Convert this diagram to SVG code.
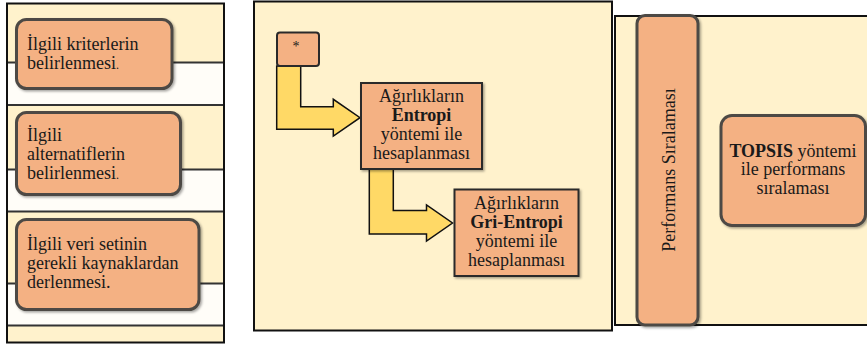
<svg xmlns="http://www.w3.org/2000/svg" width="867" height="344" viewBox="0 0 867 344" font-family="'Liberation Serif', 'Times New Roman', serif">
<defs>
  <filter id="sh" x="-10%" y="-10%" width="130%" height="130%">
    <feDropShadow dx="1.5" dy="1.5" stdDeviation="1" flood-color="#000" flood-opacity="0.35"/>
  </filter>
</defs>
<style>
  text { font-family: 'Liberation Serif', 'Times New Roman', serif; font-size: 18px; fill: #1a1a1a; }
  .panel { fill: #FFF2CC; stroke: #111; stroke-width: 2; }
  .band { fill: #FFFDF8; }
  .hline { stroke: #333; stroke-width: 2; }
  .rbox { fill: #F4B183; stroke: #4d4a45; stroke-width: 3; filter: url(#sh); }
  .sbox { fill: #F4B183; stroke: #2a2a2a; stroke-width: 2; filter: url(#sh); }
  .arrow { fill: #FFD966; stroke: #111; stroke-width: 1.5; stroke-linejoin: miter; }
  .b { font-weight: bold; }
  .dot { font-size: 12px; }
</style>

<!-- Left panel -->
<g id="left-panel">
  <rect class="panel" x="7" y="3.5" width="217" height="339"/>
  <rect class="band" x="8" y="63" width="215" height="42"/>
  <rect class="band" x="8" y="170" width="215" height="42"/>
  <rect class="band" x="8" y="284" width="215" height="42"/>
  <line class="hline" x1="8" y1="62.5" x2="223" y2="62.5"/>
  <line class="hline" x1="8" y1="105" x2="223" y2="105"/>
  <line class="hline" x1="8" y1="169.5" x2="223" y2="169.5"/>
  <line class="hline" x1="8" y1="211.5" x2="223" y2="211.5"/>
  <line class="hline" x1="8" y1="283.5" x2="223" y2="283.5"/>
  <line class="hline" x1="8" y1="325.5" x2="223" y2="325.5"/>
</g>

<g id="node-kriter">
  <rect class="rbox" x="16.5" y="19.5" width="155.5" height="69" rx="10"/>
  <text x="27" y="50">İlgili kriterlerin</text>
  <text x="27" y="69">belirlenmesi<tspan class="dot">.</tspan></text>
</g>

<g id="node-alternatif">
  <rect class="rbox" x="16.5" y="112.5" width="164" height="82" rx="10"/>
  <text x="27" y="141">İlgili</text>
  <text x="27" y="159.5">alternatiflerin</text>
  <text x="27" y="178.5">belirlenmesi<tspan class="dot">.</tspan></text>
</g>

<g id="node-veri">
  <rect class="rbox" x="16.5" y="219.5" width="182.5" height="90" rx="10"/>
  <text x="27" y="250">İlgili veri setinin</text>
  <text x="27" y="269">gerekli kaynaklardan</text>
  <text x="27" y="288">derlenmesi.</text>
</g>

<!-- Middle panel -->
<g id="middle-panel">
  <rect class="panel" x="254" y="1.5" width="358" height="329"/>
</g>

<g id="connectors">
  <path class="arrow" d="M276.7,66 V129.3 H333.3 V136 L360,117.7 L333.3,99.3 V106.7 H300.7 V66 Z"/>
  <path class="arrow" d="M369.3,169.3 V234 H426.5 V241 L452.5,223 L426.5,205 V210.5 H393.3 V169.3 Z"/>
  <line x1="698" y1="164" x2="721" y2="164" stroke="#111" stroke-width="3"/>
</g>

<g id="node-star">
  <rect x="277" y="32.5" width="42" height="33.5" rx="3" fill="#F4B183" stroke="#2a2a2a" stroke-width="2"/>
  <text x="296" y="51" text-anchor="middle" style="font-size:14px">*</text>
</g>

<g id="node-entropi">
  <rect class="sbox" x="361" y="83" width="121" height="86"/>
  <text x="421.5" y="101.5" text-anchor="middle">Ağırlıkların</text>
  <text x="421.5" y="120.5" text-anchor="middle" class="b">Entropi</text>
  <text x="421.5" y="139.5" text-anchor="middle">yöntemi ile</text>
  <text x="421.5" y="158.5" text-anchor="middle">hesaplanması</text>
</g>

<g id="node-gri-entropi">
  <rect class="sbox" x="454.5" y="189.5" width="124" height="86.5"/>
  <text x="516.5" y="208.5" text-anchor="middle">Ağırlıkların</text>
  <text x="516.5" y="227.5" text-anchor="middle" class="b">Gri-Entropi</text>
  <text x="516.5" y="246.5" text-anchor="middle">yöntemi ile</text>
  <text x="516.5" y="265.5" text-anchor="middle">hesaplanması</text>
</g>

<!-- Right panel -->
<g id="right-panel">
  <rect class="panel" x="615" y="16" width="270" height="309"/>
</g>

<g id="node-performans">
  <rect class="rbox" x="637" y="15.5" width="61" height="309.5" rx="8"/>
  <text transform="translate(675,170) rotate(-90)" text-anchor="middle">Performans Sıralaması</text>
</g>

<g id="node-topsis">
  <rect class="rbox" x="721" y="115.5" width="144.5" height="110" rx="11"/>
  <text x="793" y="156.5" text-anchor="middle"><tspan class="b">TOPSIS</tspan> yöntemi</text>
  <text x="793" y="175" text-anchor="middle">ile performans</text>
  <text x="793" y="193.5" text-anchor="middle">sıralaması</text>
</g>
</svg>
